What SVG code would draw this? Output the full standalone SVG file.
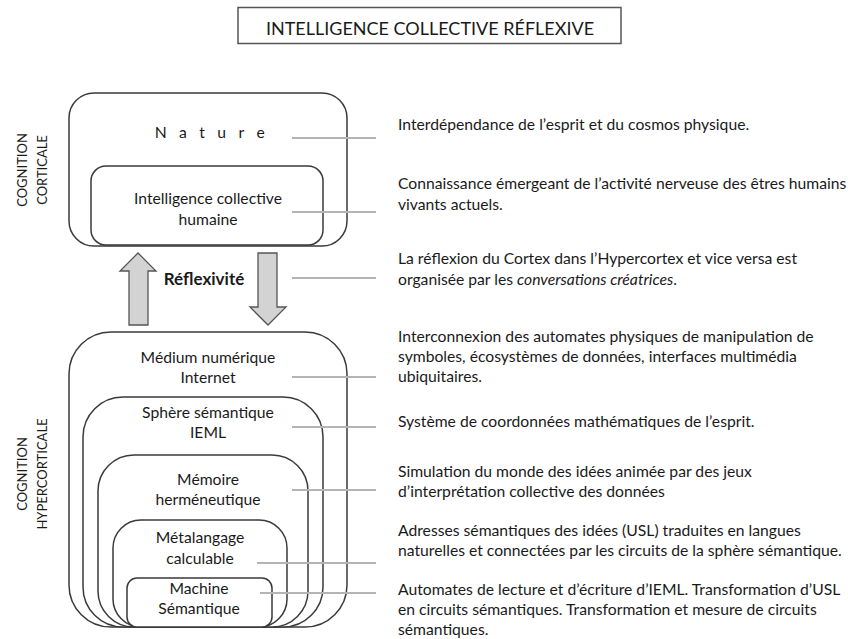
<svg xmlns="http://www.w3.org/2000/svg" width="848" height="639" viewBox="0 0 848 639">
  <style>
    text { font-family: Lato, "Open Sans", "Liberation Sans", sans-serif; fill: #1a1a1a; }
    .box { fill: #ffffff; stroke: #3a3a3a; stroke-width: 1.5; }
    .node { font-size: 15.7px; text-anchor: middle; }
    .desc { font-size: 15.7px; }
    .side { font-size: 13px; text-anchor: middle; }
    .lead { stroke: #b4b4b4; stroke-width: 2; fill: none; }
    .arrow { fill: #d3d3d3; stroke: #555555; stroke-width: 1.3; }
  </style>

  <!-- title -->
  <g id="title">
    <rect x="238" y="7.5" width="383" height="36" fill="#ffffff" stroke="#555555" stroke-width="1.5"/>
    <text x="430" y="35" font-size="18" text-anchor="middle">INTELLIGENCE COLLECTIVE RÉFLEXIVE</text>
  </g>

  <!-- side labels -->
  <g id="label-cortical">
    <text class="side" transform="translate(27,170) rotate(-90)">COGNITION</text>
    <text class="side" transform="translate(47,170) rotate(-90)">CORTICALE</text>
  </g>
  <g id="label-hypercortical">
    <text class="side" transform="translate(27,474) rotate(-90)">COGNITION</text>
    <text class="side" transform="translate(47,474) rotate(-90)">HYPERCORTICALE</text>
  </g>

  <!-- cortical nodes -->
  <g id="nature">
    <rect class="box" x="69" y="93" width="278" height="153" rx="25"/>
    <text class="node" x="216" y="138" letter-spacing="12.5">Nature</text>
  </g>
  <g id="intelligence-collective-humaine">
    <rect class="box" x="91" y="166" width="232" height="79" rx="15"/>
    <text class="node" x="208" y="204">Intelligence collective</text>
    <text class="node" x="208" y="225">humaine</text>
  </g>

  <!-- reflexivity arrows -->
  <g id="reflexivite">
    <path class="arrow" d="M138,253 L156,271 L148,271 L148,325 L129,325 L129,271 L120,271 Z"/>
    <path class="arrow" d="M258,253 L277,253 L277,307 L286,307 L268,325 L250,307 L258,307 Z"/>
    <text x="204" y="285" font-size="17" font-weight="bold" text-anchor="middle">Réflexivité</text>
  </g>

  <!-- hypercortical nodes -->
  <g id="medium-numerique">
    <rect class="box" x="69" y="332" width="278" height="295" rx="42"/>
    <text class="node" x="208" y="363">Médium numérique</text>
    <text class="node" x="208" y="383">Internet</text>
  </g>
  <g id="sphere-semantique">
    <rect class="box" x="83" y="397" width="240" height="230" rx="40"/>
    <text class="node" x="208" y="418">Sphère sémantique</text>
    <text class="node" x="208" y="438">IEML</text>
  </g>
  <g id="memoire-hermeneutique">
    <rect class="box" x="98" y="455" width="210" height="172" rx="36"/>
    <text class="node" x="208" y="485">Mémoire</text>
    <text class="node" x="208" y="505">herméneutique</text>
  </g>
  <g id="metalangage-calculable">
    <rect class="box" x="113" y="520" width="174" height="107" rx="28"/>
    <text class="node" x="200" y="543">Métalangage</text>
    <text class="node" x="200" y="564">calculable</text>
  </g>
  <g id="machine-semantique">
    <rect class="box" x="127" y="578" width="145" height="49" rx="10"/>
    <text class="node" x="199" y="594">Machine</text>
    <text class="node" x="199" y="614">Sémantique</text>
  </g>

  <!-- leader lines -->
  <g id="connectors">
    <line class="lead" x1="292" y1="138" x2="376" y2="138"/>
    <line class="lead" x1="292" y1="212" x2="376" y2="212"/>
    <line class="lead" x1="292" y1="278" x2="376" y2="278"/>
    <line class="lead" x1="292" y1="377" x2="376" y2="377"/>
    <line class="lead" x1="292" y1="427" x2="376" y2="427"/>
    <line class="lead" x1="292" y1="490" x2="376" y2="490"/>
    <line class="lead" x1="257" y1="563" x2="376" y2="563"/>
    <line class="lead" x1="260" y1="593" x2="376" y2="593"/>
  </g>

  <!-- descriptions -->
  <g id="descriptions">
    <text class="desc" x="398" y="130">Interdépendance de l’esprit et du cosmos physique.</text>
    <text class="desc" x="398" y="189">Connaissance émergeant de l’activité nerveuse des êtres humains</text>
    <text class="desc" x="398" y="210">vivants actuels.</text>
    <text class="desc" x="398" y="264">La réflexion du Cortex dans l’Hypercortex et vice versa est</text>
    <text class="desc" x="398" y="285">organisée par les <tspan font-style="italic">conversations créatrices</tspan>.</text>
    <text class="desc" x="398" y="342">Interconnexion des automates physiques de manipulation de</text>
    <text class="desc" x="398" y="362">symboles, écosystèmes de données, interfaces multimédia</text>
    <text class="desc" x="398" y="382">ubiquitaires.</text>
    <text class="desc" x="398" y="427">Système de coordonnées mathématiques de l’esprit.</text>
    <text class="desc" x="398" y="477">Simulation du monde des idées animée par des jeux</text>
    <text class="desc" x="398" y="497">d’interprétation collective des données</text>
    <text class="desc" x="398" y="536">Adresses sémantiques des idées (USL) traduites en langues</text>
    <text class="desc" x="398" y="556">naturelles et connectées par les circuits de la sphère sémantique.</text>
    <text class="desc" x="398" y="595">Automates de lecture et d’écriture d’IEML. Transformation d’USL</text>
    <text class="desc" x="398" y="615">en circuits sémantiques. Transformation et mesure de circuits</text>
    <text class="desc" x="398" y="635">sémantiques.</text>
  </g>
</svg>
